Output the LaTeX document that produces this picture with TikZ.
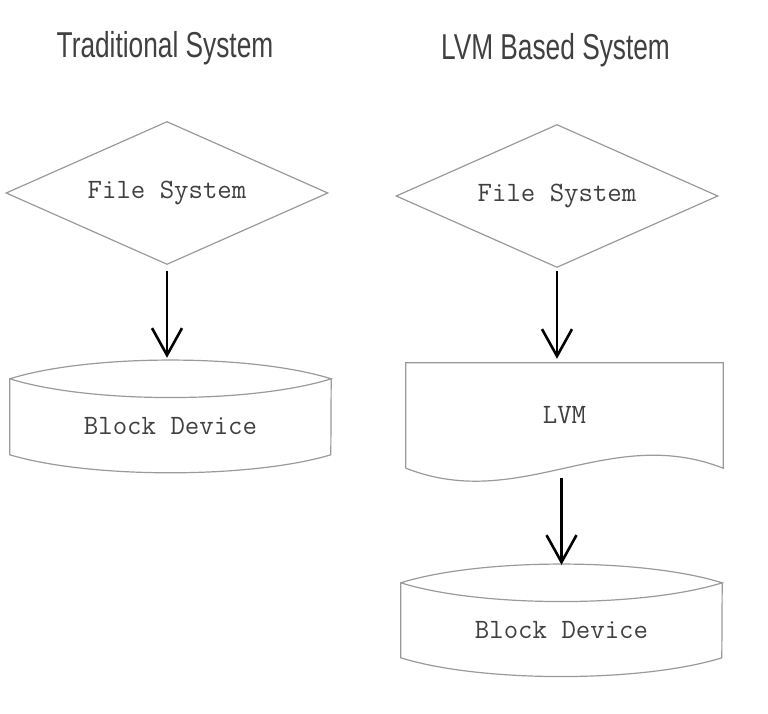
\documentclass[tikz,border=0pt]{standalone}
\usepackage{fontspec}
\newfontfamily\titlefont[FakeStretch=0.73]{Liberation Sans}
\usetikzlibrary{positioning,arrows.meta,shapes.geometric}
\definecolor{linegray}{HTML}{9A9A9A}
\definecolor{textgray}{HTML}{404040}

\begin{document}
\begin{tikzpicture}[x=1pt,y=-1pt,
  % Node Styles
  title/.style={font=\titlefont\fontsize{36}{40}\selectfont, text=textgray, anchor=base},
  decision/.style={diamond, aspect=2.25, draw=linegray, line width=1.2pt, minimum width=322pt, minimum height=143pt, inner sep=0pt, font=\ttfamily\fontsize{28}{32}\selectfont, text=textgray},
  storebox/.style={rectangle, minimum width=321pt, minimum height=94pt, inner sep=0pt, font=\ttfamily\fontsize{28}{32}\selectfont, text=textgray},
  docbox/.style={rectangle, minimum width=317pt, minimum height=105pt, inner sep=0pt, font=\ttfamily\fontsize{28}{32}\selectfont, text=textgray},
  outline/.style={draw=linegray, line width=1.2pt},
  % Arrow Styles
  downarrow/.style={-{Straight Barb[length=27pt,width=30pt]}, line width=2.6pt},
]
\fill[white] (0,0) rectangle (768,714);
\useasboundingbox (0,0) rectangle (768,714);

% Titles
\node[title] (t_trad) at (165,58) {Traditional System};
\node[title] (t_lvm) at (555.5,60) {LVM Based System};

% Traditional System
\node[decision] (fs1) at (167,193) {File System};
\node[storebox] (bd1) at (170.5,426) {Block Device};
\draw[outline] (bd1.north west) .. controls +(80,-25) and +(-80,-25) .. (bd1.north east)
  .. controls +(-80,25) and +(80,25) .. (bd1.north west) -- ++(0,76)
  .. controls +(80,24) and +(-80,24) .. ++(321,0) -- (bd1.north east);

% LVM Based System
\node[decision] (fs2) at (557,196) {File System};
\node[docbox] (lvm) at (564.5,415.5) {LVM};
\draw[outline] (lvm.south west) -- (lvm.north west) -- (lvm.north east) -- (lvm.south east)
  .. controls +(-115,-45) and +(115,45) .. (lvm.south west);
\node[storebox] (bd2) at (561.5,630) {Block Device};
\draw[outline] (bd2.north west) .. controls +(80,-25) and +(-80,-25) .. (bd2.north east)
  .. controls +(-80,25) and +(80,25) .. (bd2.north west) -- ++(0,75)
  .. controls +(80,25) and +(-80,25) .. ++(321,0) -- (bd2.north east);

\draw[downarrow] ([yshift=-6pt]fs1.south) -- ([yshift=21pt]fs1.south |- bd1.north);
\draw[downarrow] ([yshift=-3pt]fs2.south) -- ([yshift=4pt]fs2.south |- lvm.north);
\draw[downarrow] ([yshift=-10pt]bd2.north |- lvm.south) -- ([yshift=18pt]bd2.north);

\end{tikzpicture}
\end{document}
